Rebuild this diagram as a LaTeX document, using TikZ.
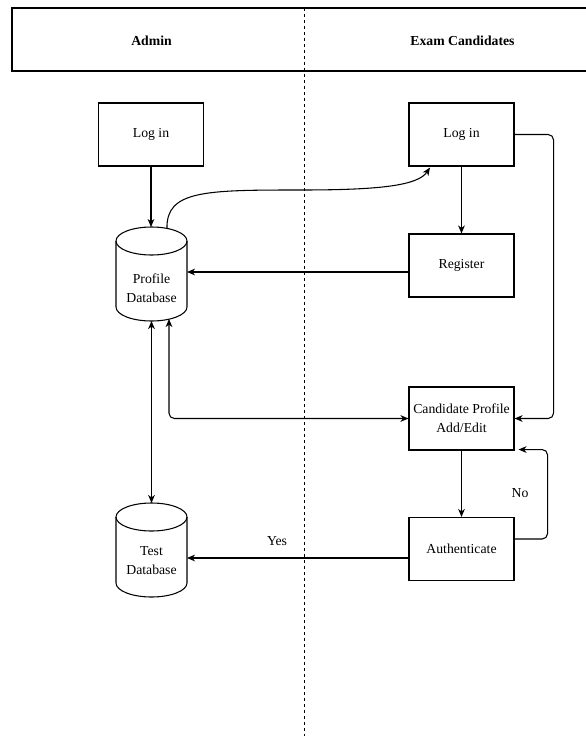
\documentclass[tikz,border=0pt]{standalone}
\usepackage{fontspec}
\setmainfont{Liberation Serif}
\usetikzlibrary{arrows.meta,calc}

% Outline of a database cylinder drawn around an invisible node
\newcommand\dbcylinder[1]{%
  \draw[outline] ($(#1.north west)+(0,14)$) -- ($(#1.south west)+(0,-14)$)
    arc[start angle=180,end angle=360,x radius=26.625pt,y radius=10.5pt]
    -- ($(#1.north east)+(0,14)$);
  \draw[outline] ($(#1.north)+(0,14)$) ellipse[x radius=26.625pt,y radius=10.5pt];%
}

\begin{document}
\begin{tikzpicture}[x=0.75pt,y=-0.75pt,
  every node/.style={font=\fontsize{10.3}{14.4}\selectfont, inner sep=0pt},
  outline/.style={draw=black, line width=0.8pt},
  stepbox/.style={outline, minimum width=78.75pt, minimum height=47.25pt, align=center},
  dbbox/.style={minimum width=53.25pt, minimum height=70.5pt, outer sep=0pt},
  dbtext/.style={align=center},
  lanetitle/.style={font=\fontsize{10.3}{14.4}\selectfont\bfseries},
  arr/.style={draw=black, line width=0.8pt, -{Stealth[length=6pt,width=5pt,inset=1.8pt]}},
  darr/.style={draw=black, line width=0.8pt, {Stealth[length=6pt,width=5pt,inset=1.8pt]}-{Stealth[length=6pt,width=5pt,inset=1.8pt]}},
  lanesep/.style={draw=black, line width=0.6pt, dash pattern=on 2.6pt off 1.9pt},
  roundbend/.style={rounded corners=4pt}
]
\useasboundingbox (0,0) rectangle (586,740);

% swimlane header and separator
\draw[outline] (586,8) -| (12,71) -- (586,71);
\coordinate (laneTop) at (304.3,8);
\coordinate (laneBot) at (304.3,736);
\draw[lanesep] (laneTop) -- (laneBot);
\node[lanetitle] (admin) at (151.5,41) {Admin};
\node[lanetitle] (cands) at (462.5,41) {Exam Candidates};

% admin lane
\node[stepbox] (loginA) at (151,134.5) {Log in};
\node[dbbox] (pdb) at (151.5,274) {};
\dbcylinder{pdb}
\node[dbtext] (pdbt) at (151.5,288.5) {Profile\\Database};
\node[dbbox] (tdb) at (151.5,550) {};
\dbcylinder{tdb}
\node[dbtext] (tdbt) at (151.5,560.5) {Test\\Database};

% candidate lane
\node[stepbox] (loginC) at (461.5,134.5) {Log in};
\node[stepbox] (reg) at (461.5,265.5) {Register};
\node[stepbox] (cand) at (461.5,418.5) {Candidate Profile\\Add/Edit};
\node[stepbox] (auth) at (461.5,549) {Authenticate};

% connectors
\draw[arr] (loginA.south) -- (loginA.south |- pdb.north);

\coordinate (pdbTop) at ($(pdb.north)+(15.5,1.5)$);
\coordinate (curveMid) at (300,190);
\draw[arr] (pdbTop) .. controls +(-1,-38) and +(-95,0) .. (curveMid)
  .. controls +(80,0) and +(-12,18) .. ($(loginC.south)+(-31.5,1)$);

\draw[arr] (loginC.south) -- (reg.north);

\coordinate (regOut) at ($(reg.west)+(0,6.5)$);
\draw[arr] (regOut) -- (regOut -| pdb.east);

\draw[arr, roundbend] (loginC.east) -- ++(39,0) |- (cand.east);

\coordinate (pdbBot) at ($(pdb.south)+(17.5,-2)$);
\draw[darr, roundbend] (pdbBot) |- (cand.west);

\draw[darr] (pdb.south) -- (tdb.north);

\draw[arr] (cand.south) -- (auth.north);

\coordinate (authOut) at ($(auth.east)+(0,-10)$);
\draw[arr, roundbend] (authOut) -- ++(33,0) |- ($(cand.south east)+(4,-1)$);
\node (no) at (520,493) {No};

\coordinate (authYes) at ($(auth.west)+(0,9)$);
\draw[arr] (authYes) -- (authYes -| tdb.east);
\node (yes) at (277,541) {Yes};
\end{tikzpicture}
\end{document}
